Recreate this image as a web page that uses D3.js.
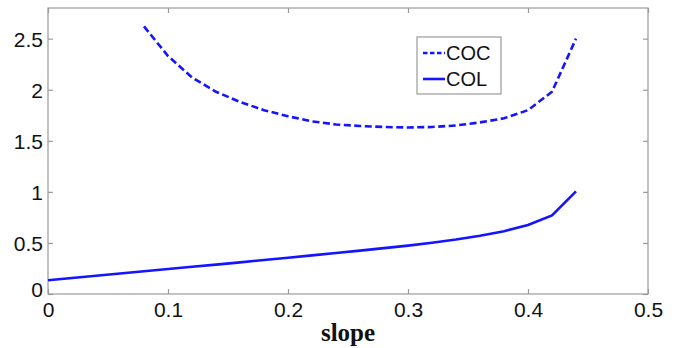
<!DOCTYPE html>
<html>
<head>
<meta charset="utf-8">
<script src="https://cdn.jsdelivr.net/npm/d3@7"></script>
<style>
  body { margin: 0; background: #fff; }
  svg { display: block; }
  .tick text { font-family: "Liberation Sans", Arial, sans-serif; font-size: 21px; fill: #111; }
</style>
</head>
<body>
<div id="chart"></div>
<script>
// slope values and the two curves
const cocSlope = [0.08, 0.10, 0.12, 0.14, 0.16, 0.18, 0.20, 0.22, 0.24, 0.26, 0.28, 0.30, 0.32, 0.34, 0.36, 0.38, 0.40, 0.42, 0.44];
const cocValues = [2.62, 2.33, 2.12, 1.98, 1.88, 1.80, 1.74, 1.69, 1.66, 1.645, 1.635, 1.63, 1.635, 1.65, 1.68, 1.72, 1.80, 1.98, 2.50];
const colSlope = [0, 0.02, 0.04, 0.06, 0.08, 0.10, 0.12, 0.14, 0.16, 0.18, 0.20, 0.22, 0.24, 0.26, 0.28, 0.30, 0.32, 0.34, 0.36, 0.38, 0.40, 0.42, 0.44];
const colValues = [0.135, 0.157, 0.179, 0.201, 0.223, 0.245, 0.266, 0.288, 0.31, 0.333, 0.355, 0.378, 0.402, 0.425, 0.449, 0.474, 0.502, 0.533, 0.57, 0.615, 0.675, 0.77, 1.005];
const xTicks = [0, 0.1, 0.2, 0.3, 0.4, 0.5];
const yTicks = [0, 0.5, 1, 1.5, 2, 2.5];
const seriesNames = ['COC', 'COL'];

const W = 682, H = 348;
const margin = { top: 8, left: 48, right: 34, bottom: 54 };
const width = W - margin.left - margin.right;
const height = H - margin.top - margin.bottom;
const blue = '#1414ff';
const axisGray = '#9a9a9a';

const svg = d3.select('#chart').append('svg')
  .attr('width', W)
  .attr('height', H);

const g = svg.append('g')
  .attr('transform', `translate(${margin.left},${margin.top})`);

const x = d3.scaleLinear().domain([0, 0.5]).range([0, width]);
const y = d3.scaleLinear().domain([0, 2.8]).range([height, 0]);

// box
g.append('rect')
  .attr('width', width).attr('height', height)
  .attr('fill', 'none').attr('stroke', axisGray).attr('stroke-width', 1.2);

const fmt = d => d === 0 ? '0' : String(d);

const xAxis = g.append('g')
  .attr('transform', `translate(0,${height})`)
  .call(d3.axisBottom(x).tickValues(xTicks).tickFormat(fmt).tickSizeInner(-5).tickSizeOuter(0).tickPadding(8));
const yAxis = g.append('g')
  .call(d3.axisLeft(y).tickValues(yTicks).tickFormat(fmt).tickSizeInner(-5).tickSizeOuter(0).tickPadding(5));
g.append('g')
  .call(d3.axisTop(x).tickValues(xTicks).tickFormat('').tickSizeInner(-5).tickSizeOuter(0));
g.append('g')
  .attr('transform', `translate(${width},0)`)
  .call(d3.axisRight(y).tickValues(yTicks).tickFormat('').tickSizeInner(-5).tickSizeOuter(0));

g.selectAll('.domain').remove();
g.selectAll('.tick line').attr('stroke', axisGray).attr('stroke-width', 1.2);
yAxis.selectAll('.tick text').attr('dy', (d, i) => i === 0 ? '0.1em' : '0.36em');

const line = d3.line().x(d => x(d[0])).y(d => y(d[1]));

g.append('path')
  .datum(d3.zip(cocSlope, cocValues))
  .attr('d', line)
  .attr('fill', 'none').attr('stroke', blue).attr('stroke-width', 2.6)
  .attr('stroke-dasharray', '7,3.5');

g.append('path')
  .datum(d3.zip(colSlope, colValues))
  .attr('d', line)
  .attr('fill', 'none').attr('stroke', blue).attr('stroke-width', 2.6);

// x label
svg.append('text')
  .attr('x', margin.left + width / 2)
  .attr('y', 341)
  .attr('text-anchor', 'middle')
  .attr('font-family', '"Liberation Serif", "Times New Roman", serif')
  .attr('font-weight', 'bold')
  .attr('font-size', 25)
  .attr('fill', '#111')
  .text('slope');

// legend
const leg = svg.append('g').attr('transform', 'translate(417,37)');
leg.append('rect')
  .attr('width', 84).attr('height', 57)
  .attr('fill', '#fff').attr('stroke', axisGray).attr('stroke-width', 1.2);
seriesNames.forEach((name, i) => {
  const ly = 16 + i * 26;
  leg.append('line')
    .attr('x1', 6).attr('x2', 28).attr('y1', ly).attr('y2', ly)
    .attr('stroke', blue).attr('stroke-width', 2.6)
    .attr('stroke-dasharray', i === 0 ? '4.5,2.5' : null);
  leg.append('text')
    .attr('x', 29).attr('y', ly).attr('dy', '0.36em')
    .attr('font-family', '"Liberation Sans", Arial, sans-serif')
    .attr('font-size', 20)
    .attr('fill', '#111')
    .text(name);
});
</script>
</body>
</html>
